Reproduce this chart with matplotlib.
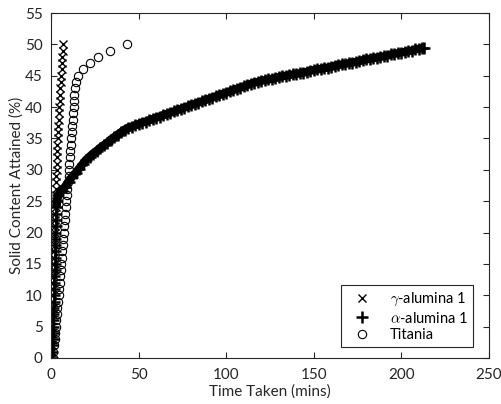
import matplotlib
matplotlib.use("Agg")
from matplotlib import pyplot as plt
import numpy as np

plt.rcParams['font.family'] = ['Lato', 'DejaVu Sans']
plt.rcParams['mathtext.fontset'] = 'cm'

# gamma-alumina 1 (x markers)
gamma_y = list(range(0, 51))
gamma_t = [0.2, 0.3, 0.4, 0.5, 0.6, 0.7, 0.8, 0.9, 1.0, 1.1,
           1.2, 1.3, 1.4, 1.5, 1.6, 1.7, 1.8, 1.9, 2.0, 2.1,
           2.2, 2.3, 2.4, 2.5, 2.6, 2.7, 2.8, 2.9, 3.0, 3.1,
           3.2, 3.3, 3.4, 3.5, 3.6, 3.8, 4.0, 4.2, 4.4, 4.6,
           4.8, 5.0, 5.2, 5.4, 5.6, 5.8, 6.0, 6.2, 6.4, 6.6, 6.8]

# alpha-alumina 1 (+ markers)
alpha_t = [0.5, 0.6, 0.8, 0.9, 1.0, 1.1, 1.2, 1.3, 1.4, 1.5,
           1.6, 1.7, 1.8, 1.9, 2.0, 2.0, 2.1, 2.2, 2.3, 2.4,
           2.5, 2.6, 2.7, 2.9, 3.1, 3.5, 4.2,
           6, 8, 10, 12, 14, 16, 18, 20, 22, 24, 26, 28, 30, 32, 34, 36, 38, 40,
           42, 44, 46, 48, 50, 52, 54, 56, 58, 60, 62, 64, 66, 68, 70, 72, 74,
           76, 78, 80, 82, 84, 86, 88, 90, 92, 94, 96, 98, 100, 102, 104, 106,
           108, 110, 112, 114, 116, 118, 120, 122, 124, 126, 128, 130, 132, 134,
           136, 138, 140, 142, 144, 146, 148, 150, 152, 154, 156, 158, 160, 162,
           164, 166, 168, 170, 172, 174, 176, 178, 180, 182, 184, 186, 188, 190,
           192, 194, 196, 198, 200, 202, 204, 206, 208, 210, 212, 213]
alpha_y = [0, 1, 2, 3, 4, 5, 6, 7, 8, 9,
           10, 11, 12, 13, 14, 15, 16, 17, 18, 19,
           20, 21, 22, 23, 24, 25, 26,
           26.7, 27.3, 28.1, 28.9, 29.5, 30.2, 30.9, 31.6, 32.1, 32.6, 33.0, 33.5,
           33.9, 34.3, 34.8, 35.2, 35.6, 36.0, 36.4, 36.7, 36.9, 37.1, 37.3, 37.5,
           37.7, 37.9, 38.1, 38.3, 38.5, 38.7, 38.9, 39.1, 39.3, 39.5, 39.7, 39.9,
           40.1, 40.3, 40.5, 40.7, 40.9, 41.1, 41.3, 41.5, 41.7, 41.9, 42.1, 42.3,
           42.5, 42.7, 42.9, 43.1, 43.3, 43.5, 43.7, 43.9, 44.0, 44.2, 44.3, 44.4,
           44.5, 44.6, 44.8, 44.9, 45.0, 45.1, 45.2, 45.3, 45.4, 45.5, 45.6, 45.8,
           45.9, 46.0, 46.1, 46.2, 46.3, 46.4, 46.6, 46.7, 46.8, 46.9, 47.0, 47.1,
           47.2, 47.3, 47.5, 47.6, 47.7, 47.8, 47.9, 48.0, 48.1, 48.2, 48.4, 48.5,
           48.6, 48.7, 48.8, 48.9, 49.0, 49.2, 49.3, 49.4, 49.5]

# Titania (o markers)
titania_y = list(range(0, 51))
titania_t = [1.0, 1.3, 1.7, 2.1, 2.5, 2.8, 3.1, 3.4, 3.7, 4.0,
             4.3, 4.6, 4.9, 5.2, 5.5, 5.8, 6.1, 6.4, 6.7, 7.0,
             7.3, 7.6, 7.9, 8.2, 8.5, 8.8, 9.1, 9.4, 9.7, 10.0,
             10.2, 10.5, 10.8, 11.1, 11.3, 11.6, 11.9, 12.1, 12.4, 12.6,
             12.9, 13.1, 13.4, 13.7, 14.3, 15.6, 18.1, 22.2, 27.0, 33.7, 43.2]

fig = plt.figure(figsize=(5.02, 4.04), dpi=100)
ax = fig.add_axes([0.1016, 0.1139, 0.8725, 0.8539])

ax.plot(gamma_t, gamma_y, 'x', color='k', ms=5.5, mew=1.0, label=r'$\gamma$-alumina 1')
# dense + markers merge into a solid band in the original
ax.plot(alpha_t[24:], alpha_y[24:], '-', color='k', lw=6, solid_capstyle='butt')
ax.plot(alpha_t, alpha_y, '+', color='k', ms=8, mew=1.8, label=r'$\alpha$-alumina 1')
ax.plot(titania_t, titania_y, 'o', color='k', mfc='none', ms=6, mew=0.8, label='Titania')

ax.set_xlim(0, 250)
ax.set_ylim(0, 55)
ax.set_xticks(np.arange(0, 251, 50))
ax.set_yticks(np.arange(0, 56, 5))
ax.tick_params(direction='in', top=True, right=True, labelsize=11, length=4, colors='#262626')
ax.tick_params(axis='x', pad=7)
ax.tick_params(axis='y', pad=6)
for s in ax.spines.values():
    s.set_linewidth(0.8)
    s.set_color('#262626')

ax.set_xlabel('Time Taken (mins)', fontsize=11, color='#262626', labelpad=2)
ax.set_ylabel('Solid Content Attained (%)', fontsize=11, color='#262626', labelpad=1)

leg = ax.legend(loc='lower right', fontsize=10.5, fancybox=False, edgecolor='#262626',
                framealpha=1, bbox_to_anchor=(0.98, 0.01), handletextpad=0.8,
                borderpad=0.35, labelspacing=0.18, handlelength=2.2)
leg.get_frame().set_linewidth(0.8)

fig.savefig('out.png', dpi=100)
